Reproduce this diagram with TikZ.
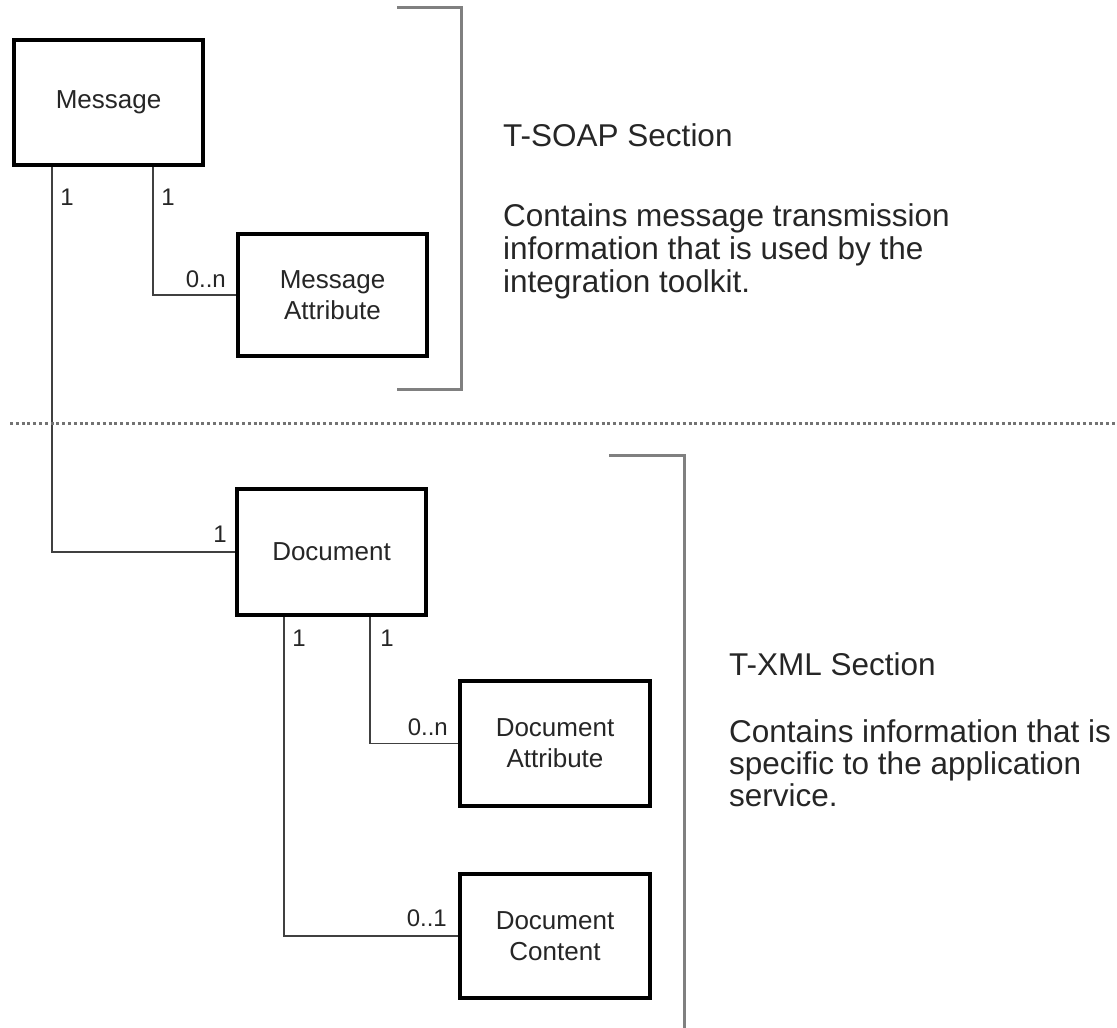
\documentclass[tikz,border=0pt]{standalone}
\usepackage{fontspec}
\setmainfont{Liberation Sans}
\begin{document}
\begin{tikzpicture}[x=1pt,y=-1pt,
  box/.style={draw=black,line width=4.5pt,fill=white,inner sep=0pt,align=center,
    text=black!85,font=\fontsize{26}{31}\selectfont},
  conn/.style={draw=black!75,line width=1.8pt},
  brk/.style={draw=black!50,line width=3pt},
  mult/.style={text=black!85,font=\fontsize{24}{28}\selectfont,inner sep=0pt},
  desc/.style={text=black!85,font=\fontsize{31.5}{33}\selectfont,inner sep=0pt,anchor=base west}]
\useasboundingbox (0,0) rectangle (1117,1028);
% boxes
\node[box,minimum width=189,minimum height=125] (msg) at (108.5,102.5) {Message};
\node[box,minimum width=189,minimum height=122] (mattr) at (332.5,295) {Message\\Attribute};
\node[box,minimum width=189,minimum height=126] (doc) at (331.5,552) {Document};
\node[box,minimum width=190,minimum height=125] (dattr) at (555,743.5) {Document\\Attribute};
\node[box,minimum width=190,minimum height=124] (dcont) at (555,936) {Document\\Content};
% connectors
\draw[conn] ([xshift=40]msg.south west) |- (doc.west);
\draw[conn] ([xshift=141]msg.south west) |- (mattr.west);
\draw[conn] ([xshift=49]doc.south west) |- (dcont.west);
\draw[conn] ([xshift=135]doc.south west) |- (dattr.west);
% multiplicities
\node[mult] (m1) at (67,197) {1};
\node[mult] (m2) at (168,197) {1};
\node[mult,anchor=east] (m3) at (226,279) {0..n};
\node[mult] (m4) at (220,534) {1};
\node[mult] (m5) at (299,638) {1};
\node[mult] (m6) at (387,638) {1};
\node[mult,anchor=east] (m7) at (448,727) {0..n};
\node[mult,anchor=east] (m8) at (447,918) {0..1};
% brackets
\draw[brk] (397,7) -- (461,7) -- (461,389) -- (397,389);
\draw[brk] (609,455) -- (684,455) -- (684,1032);
% separator
\draw[draw=black!55,line width=3pt,dash pattern=on 3pt off 2.8pt] (10,423) -- (1117,423);
% descriptions
\node[desc] (t1) at (503,146) {T-SOAP Section};
\node[desc] (d1a) at (503,226) {Contains message transmission};
\node[desc] (d1b) at (503,259) {information that is used by the};
\node[desc] (d1c) at (503,292) {integration toolkit.};
\node[desc] (t2) at (729,675) {T-XML Section};
\node[desc] (d2a) at (729,742) {Contains information that is};
\node[desc] (d2b) at (729,774) {specific to the application};
\node[desc] (d2c) at (729,806) {service.};
\end{tikzpicture}
\end{document}
